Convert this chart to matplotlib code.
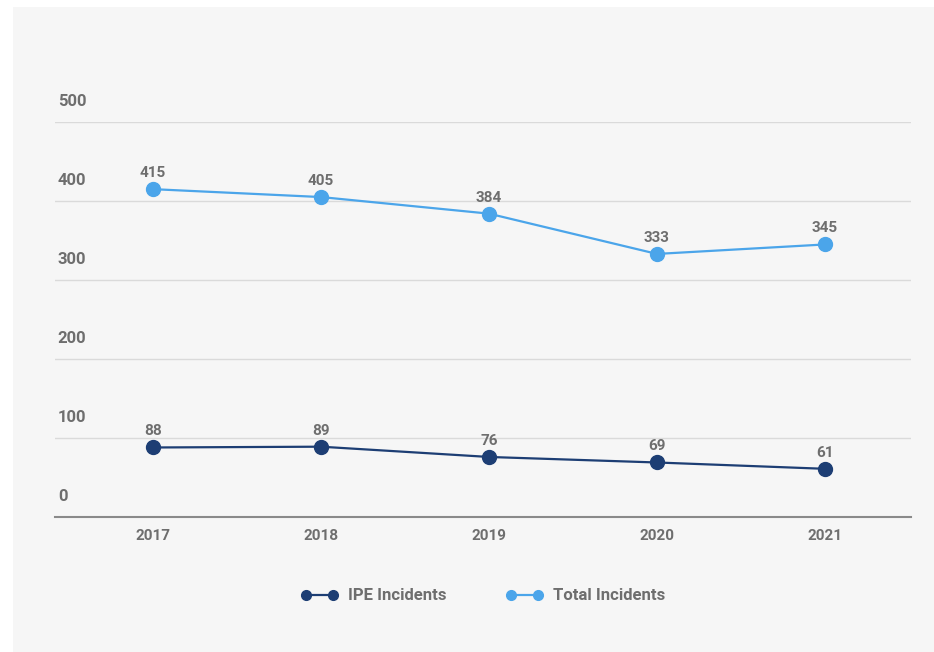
import matplotlib.pyplot as plt
from matplotlib.patches import Rectangle

years = ['2017', '2018', '2019', '2020', '2021']
ipe = [88, 89, 76, 69, 61]
total = [415, 405, 384, 333, 345]
yticks = [0, 100, 200, 300, 400, 500]

navy = '#1d3e74'
light = '#4ba5ea'
txt = '#6e6e6e'

plt.rcParams['font.family'] = ['Roboto', 'DejaVu Sans']

fig = plt.figure(figsize=(9.34, 6.52), dpi=100)
fig.patch.set_facecolor('white')
# gray panel behind the chart
fig.patches.append(Rectangle((13 / 934, 0), 1, 1 - 7 / 652, transform=fig.transFigure,
                             facecolor='#f6f6f6', edgecolor='none', zorder=-10))

ax = fig.add_axes([55 / 934, 135 / 652, 856 / 934, 395 / 652])
ax.set_facecolor('none')

x = list(range(len(years)))
ax.plot(x, ipe, color=navy, lw=1.6, marker='o', ms=10, label='IPE Incidents', zorder=3)
ax.plot(x, total, color=light, lw=1.6, marker='o', ms=10, label='Total Incidents', zorder=3)

for xi, v in zip(x, ipe):
    ax.annotate(str(v), (xi, v), xytext=(0, 6.5), textcoords='offset points',
                ha='center', va='bottom', fontsize=11, fontweight='bold', color=txt)
for xi, v in zip(x, total):
    ax.annotate(str(v), (xi, v), xytext=(0, 6.5), textcoords='offset points',
                ha='center', va='bottom', fontsize=11, fontweight='bold', color=txt)

ax.set_xlim(-0.583, 4.512)
ax.set_ylim(0, 500)

# gridlines with labels sitting above them
for t in yticks[1:]:
    ax.axhline(t, color='#dadada', lw=1, zorder=1)
for t in yticks:
    ax.annotate(str(t), (0, t), xycoords=('axes fraction', 'data'),
                xytext=(2, 15), textcoords='offset points', ha='left', va='center',
                fontsize=12, fontweight='bold', color=txt)

ax.set_yticks([])
ax.set_xticks(x)
ax.set_xticklabels(years, fontsize=11, fontweight='bold', color=txt)
ax.tick_params(axis='x', length=0, pad=9)
for s in ['top', 'right', 'left']:
    ax.spines[s].set_visible(False)
ax.spines['bottom'].set_color('#8a8a8a')
ax.spines['bottom'].set_linewidth(1.5)

leg = ax.legend(loc='center', bbox_to_anchor=(483 / 934, 56 / 652), bbox_transform=fig.transFigure,
                ncol=2, frameon=False, numpoints=2, handlelength=2.2, handletextpad=0.6,
                columnspacing=3.6, markerscale=0.7,
                prop={'size': 12, 'weight': 'bold'})
for t in leg.get_texts():
    t.set_color(txt)

fig.savefig('out.png', dpi=100)
